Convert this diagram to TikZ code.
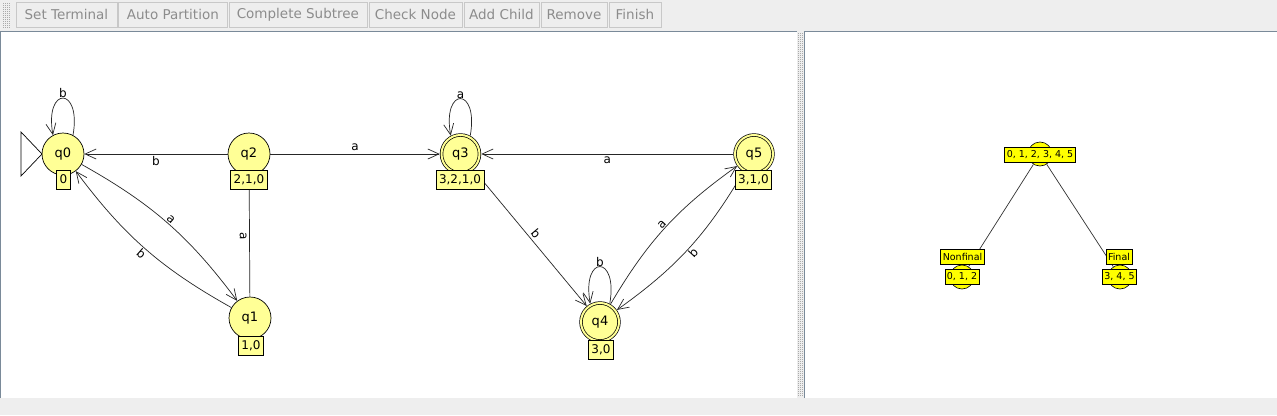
\documentclass[tikz,border=0pt]{standalone}
\usepackage{fontspec}
\setmainfont{DejaVu Sans}
\usetikzlibrary{arrows.meta}
\definecolor{statefill}{RGB}{255,255,150}
\definecolor{treeyellow}{RGB}{255,255,0}
\definecolor{toolbg}{RGB}{238,238,238}
\definecolor{btnborder}{RGB}{200,200,200}
\definecolor{btntext}{RGB}{140,140,140}
\definecolor{panelborder}{RGB}{122,138,153}
\definecolor{griddot}{RGB}{170,170,170}
\definecolor{treeline}{RGB}{50,50,50}
\tikzset{
  state/.style={circle,draw=black,fill=statefill,minimum size=42pt,inner sep=0pt,line width=0.7pt,font=\fontsize{13}{15}\selectfont},
  accept/.style={circle,draw=black,fill=statefill,minimum size=38pt,inner sep=0pt,line width=0.7pt,double=statefill,double distance=2pt,outer sep=1.8pt,font=\fontsize{13}{15}\selectfont},
  slabel/.style={draw=black,fill=statefill,line width=0.7pt,inner xsep=3pt,inner ysep=0pt,minimum height=19pt,font=\fontsize{12}{14}\selectfont},
  edge/.style={draw=black!85,line width=0.7pt,-{Straight Barb[length=11pt,width=10pt,line width=0.7pt]}},
  elab/.style={font=\fontsize{12}{14}\selectfont,inner sep=2.5pt},
  btn/.style={draw=btnborder,fill=toolbg,text=btntext,line width=0.8pt,font=\fontsize{13.5}{15}\selectfont,minimum height=25pt,inner sep=0pt,anchor=west},
  tcirc/.style={circle,draw=black,fill=treeyellow,minimum size=24pt,inner sep=0pt,line width=0.6pt},
  tbox/.style={draw=black,fill=treeyellow,line width=0.7pt,inner xsep=2pt,inner ysep=0pt,minimum height=15pt,font=\fontsize{9.5}{11}\selectfont},
  tline/.style={draw=treeline,line width=0.7pt},
}
\begin{document}
\begin{tikzpicture}[x=1pt,y=1pt]
\useasboundingbox (0,0) rectangle (1277,-415);
% background areas
\fill[white] (0,0) rectangle (1277,-415);
\fill[toolbg] (0,0) rectangle (1277,-31);
\fill[toolbg] (0,-398) rectangle (1277,-415);
\fill[toolbg] (797,-31) rectangle (805,-398);
% grip dots
\foreach \gx in {3,5,...,9} {\foreach \gy in {3,5,...,27} {\fill[griddot] (\gx,-\gy) rectangle ++(0.9,-0.9);}}
% divider dots
\foreach \gx in {798,800,802} {\foreach \gy in {33,35,...,396} {\fill[griddot] (\gx,-\gy) rectangle ++(0.9,-0.9);}}
% panel borders
\draw[panelborder,line width=1pt] (0.5,-398) -- (0.5,-31.5) -- (797,-31.5);
\draw[panelborder,line width=1pt] (804.5,-398) -- (804.5,-31.5) -- (1277,-31.5);
% toolbar buttons
\node[btn,minimum width=101pt] (b1) at (15.5,-14.5) {Set Terminal};
\node[btn,minimum width=109pt] (b2) at (118,-14.5) {Auto Partition};
\node[btn,minimum width=138pt] (b3) at (228.5,-14.5) {Complete Subtree};
\node[btn,minimum width=93pt] (b4) at (368.5,-14.5) {Check Node};
\node[btn,minimum width=75pt] (b5) at (463.5,-14.5) {Add Child};
\node[btn,minimum width=66pt] (b6) at (540.5,-14.5) {Remove};
\node[btn,minimum width=52pt] (b7) at (608.5,-14.5) {Finish};
% states
\node[state] (q0) at (63,-154) {q0};
\node[state] (q2) at (249,-154) {q2};
\node[accept] (q3) at (460.5,-154) {q3};
\node[accept] (q5) at (754,-154) {q5};
\node[state] (q1) at (250,-318) {q1};
\node[accept] (q4) at (600,-322) {q4};
% initial marker
\coordinate (i1) at (21,-132);
\coordinate (i2) at (21,-176);
\coordinate (i3) at (42,-154);
\draw[black,line width=0.7pt] (i1) -- (i2) -- (i3) -- cycle;
% edges
\draw[edge] (q2) -- node[elab,below] {b} (q0);
\draw[edge] (q2) -- node[elab,above] {a} (q3);
\draw[edge] (q5) -- node[elab,below] {a} (q3);
\draw[edge] (q3) -- node[elab,sloped,above] {b} (q4);
\draw[edge] (q1) -- node[elab,sloped,below] {a} (q2);
\draw[edge] (q0) to[bend left=12] node[elab,sloped,above,inner sep=1pt] {a} (q1);
\draw[edge] (q1) to[bend left=12] node[elab,sloped,below,inner sep=1pt] {b} (q0);
\draw[edge] (q4) to[bend left=12] node[elab,sloped,above,inner sep=1pt] {a} (q5);
\draw[edge] (q5) to[bend left=12] node[elab,sloped,below,inner sep=1pt] {b} (q4);
\draw[edge] (q0.62) .. controls +(80:50) and +(100:50) .. node[elab,above,inner sep=0pt] {b} (q0.118);
\draw[edge] (q3.62) .. controls +(80:50) and +(100:50) .. node[elab,above,inner sep=0pt] {a} (q3.118);
\draw[edge] (q4.62) .. controls +(80:50) and +(100:50) .. node[elab,above,inner sep=0pt] {b} (q4.118);
% state labels
\node[slabel] (l0) at (63.5,-179.5) {0};
\node[slabel] (l2) at (249,-179.5) {2,1,0};
\node[slabel] (l3) at (460,-179.5) {3,2,1,0};
\node[slabel] (l5) at (753.5,-179.5) {3,1,0};
\node[slabel] (l1) at (251,-345.5) {1,0};
\node[slabel] (l4) at (601,-349.5) {3,0};
% tree
\node[tcirc] (tr) at (1040,-154) {};
\node[tcirc] (tl) at (962,-277) {};
\node[tcirc] (tf) at (1120,-277) {};
\draw[tline] (tr) -- (tl);
\draw[tline] (tr) -- (tf);
\node[tbox] (trb) at (1040,-154.5) {0, 1, 2, 3, 4, 5};
\node[tbox] (tln) at (962.5,-256.5) {Nonfinal};
\node[tbox] (tlb) at (962,-276.5) {0, 1, 2};
\node[tbox] (tfn) at (1119,-256.5) {Final};
\node[tbox] (tfb) at (1119.5,-276.5) {3, 4, 5};
\end{tikzpicture}
\end{document}
